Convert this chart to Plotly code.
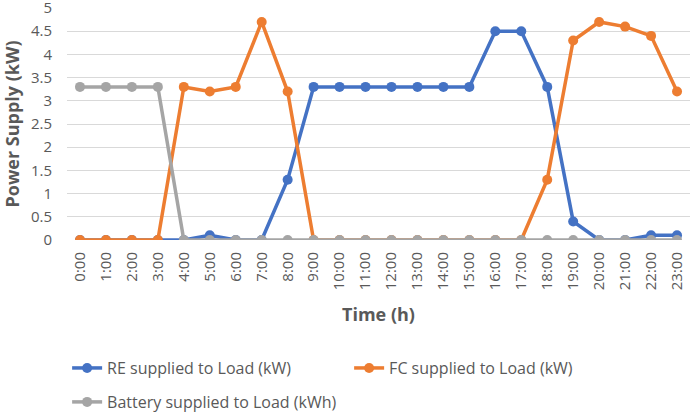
import plotly.graph_objects as go

hours = ["%d:00" % h for h in range(24)]

re_load = [0, 0, 0, 0, 0, 0.1, 0, 0, 1.3, 3.3, 3.3, 3.3, 3.3, 3.3, 3.3, 3.3,
           4.5, 4.5, 3.3, 0.4, 0, 0, 0.1, 0.1]
fc_load = [0, 0, 0, 0, 3.3, 3.2, 3.3, 4.7, 3.2, 0, 0, 0, 0, 0, 0, 0,
           0, 0, 1.3, 4.3, 4.7, 4.6, 4.4, 3.2]
bat_load = [3.3, 3.3, 3.3, 3.3, 0, 0, 0, 0, 0, 0, 0, 0, 0, 0, 0, 0,
            0, 0, 0, 0, 0, 0, 0, 0]

y_ticks = [0, 0.5, 1, 1.5, 2, 2.5, 3, 3.5, 4, 4.5, 5]
y_labels = ["0", "0.5", "1", "1.5", "2", "2.5", "3", "3.5", "4", "4.5", "5"]

FONT = "Open Sans"
GREY = "#595959"

fig = go.Figure()

# series order matters: battery is drawn on top, like the original
fig.add_trace(go.Scatter(x=hours, y=re_load, name="RE supplied to Load (kW)",
                         mode="lines+markers", line=dict(color="#4472C4", width=3.5),
                         marker=dict(size=10), legend="legend"))
fig.add_trace(go.Scatter(x=hours, y=fc_load, name="FC supplied to Load (kW)",
                         mode="lines+markers", line=dict(color="#ED7D31", width=3.5),
                         marker=dict(size=10), legend="legend"))
fig.add_trace(go.Scatter(x=hours, y=bat_load, name="Battery supplied to Load (kWh)",
                         mode="lines+markers", line=dict(color="#A5A5A5", width=3.5),
                         marker=dict(size=10), legend="legend2"))

fig.update_layout(
    width=692, height=414,
    margin=dict(l=67, r=2, t=8, b=174),
    paper_bgcolor="white", plot_bgcolor="white",
    font=dict(family=FONT, size=14, color=GREY),
    legend=dict(orientation="h", xref="container", yref="container",
                x=0.097, y=0.111, xanchor="left", yanchor="middle",
                entrywidth=237, entrywidthmode="pixels",
                font=dict(size=16, color=GREY)),
    legend2=dict(orientation="h", xref="container", yref="container",
                 x=0.097, y=0.029, xanchor="left", yanchor="middle",
                 font=dict(size=16, color=GREY)),
)

fig.update_xaxes(type="category", range=[-0.5, 23.5], showgrid=False,
                 showline=False, zeroline=False, tickangle=-90,
                 ticklabelstandoff=8, automargin=False,
                 tickfont=dict(size=15, color=GREY),
                 title=dict(text="<b>Time (h)</b>", standoff=19,
                            font=dict(size=18, color=GREY)))
fig.update_yaxes(range=[0, 5.001], tickvals=y_ticks, ticktext=y_labels,
                 showgrid=True, gridcolor="#D9D9D9", gridwidth=1,
                 zeroline=False, showline=False, ticklabelstandoff=14,
                 ticklabeloverflow="allow", automargin=False,
                 tickfont=dict(size=15, color=GREY),
                 title=dict(text="<b>Power Supply (kW)</b>", standoff=8,
                            font=dict(size=18, color=GREY)))

# the page body has a default 8px margin; drop it so the figure sits at 0,0
fig.write_html("out.html", config={"displayModeBar": False},
               post_script="document.body.style.margin='0';")
